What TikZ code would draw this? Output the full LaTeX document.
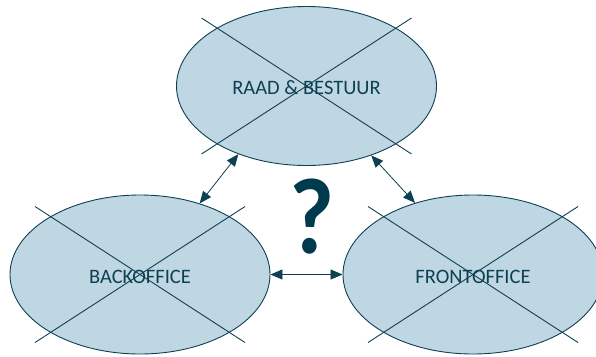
\documentclass[tikz,border=0pt]{standalone}
\usepackage{fontspec}
\setmainfont{Carlito}
\usetikzlibrary{shapes.geometric,arrows.meta,calc}
\definecolor{paleblue}{RGB}{191,215,227}
\definecolor{deepteal}{RGB}{14,64,84}
\definecolor{inkteal}{RGB}{0,58,77}
\tikzset{
  unit/.style={ellipse, draw=deepteal, line width=0.9pt, fill=paleblue,
    minimum width=260pt, minimum height=159pt, inner sep=0pt},
  unitlabel/.style={text=deepteal, font=\fontsize{20.5}{24}\selectfont},
  crossline/.style={draw=deepteal, line width=0.9pt},
  link/.style={draw=deepteal, line width=0.8pt,
    {Triangle[length=12pt,width=10pt]}-{Triangle[length=12pt,width=10pt]}},
}
% diagonal cross struck through a unit
\newcommand{\strikeunit}[1]{%
  \draw[crossline] ($(#1)+(-105,-68)$) -- ($(#1)+(105,68)$);
  \draw[crossline] ($(#1)+(-105,68)$) -- ($(#1)+(105,-68)$);}
\begin{document}
\begin{tikzpicture}[x=1pt,y=-1pt]
  \useasboundingbox (0,0) rectangle (596,356);
  \node[unit] (rb) at (306.5,86) {};
  \node[unit] (bo) at (140,274.5) {};
  \node[unit] (fo) at (473,274.5) {};
  \strikeunit{rb}
  \strikeunit{bo}
  \strikeunit{fo}
  \node[unitlabel] (rbt) at (306.5,88) {RAAD \& BESTUUR};
  \node[unitlabel] (bot) at (140,277) {BACKOFFICE};
  \node[unitlabel] (fot) at (473,277) {FRONTOFFICE};
  \draw[link] (rb.225.6) -- (bo.50.9);
  \draw[link] (rb.313.9) -- (fo.129);
  \draw[link] (bo.east) -- (fo.west);
  \node[text=inkteal, font=\fontsize{108}{108}\bfseries\selectfont, inner sep=0pt, xscale=0.9] (q) at (312,217) {?};
\end{tikzpicture}
\end{document}
